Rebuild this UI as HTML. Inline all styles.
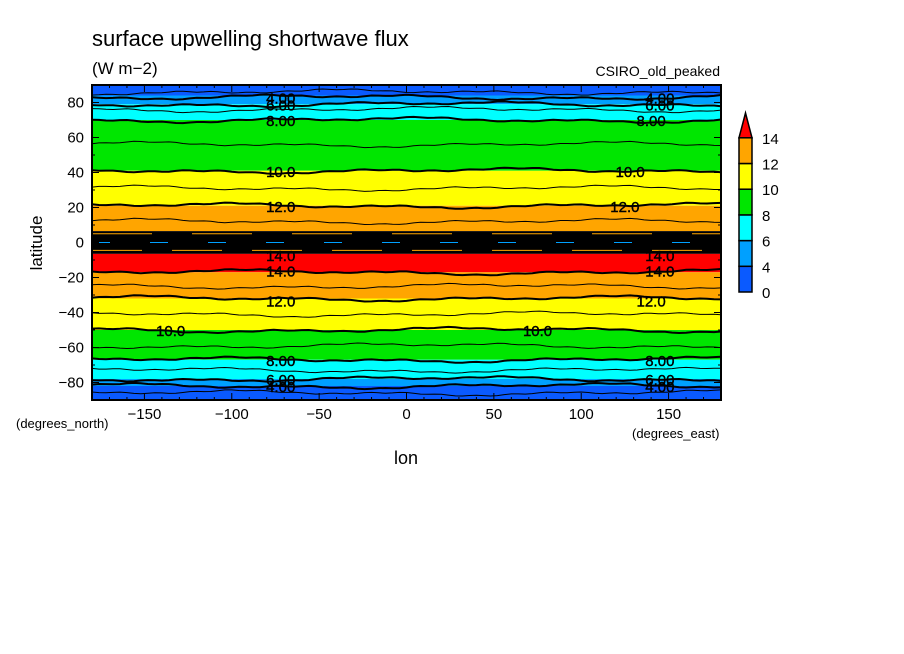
<!DOCTYPE html>
<html><head><meta charset="utf-8"><style>
body{margin:0;background:#fff;width:904px;height:654px;overflow:hidden}
svg{display:block;font-family:"Liberation Sans",sans-serif}
</style></head><body>
<svg id="chart" width="904" height="654" viewBox="0 0 904 654">
<rect width="904" height="654" fill="#fff"/>
<text x="92" y="46" font-size="22">surface upwelling shortwave flux</text>
<text x="92" y="74" font-size="17">(W m−2)</text>
<text x="720" y="76" font-size="14" text-anchor="end">CSIRO_old_peaked</text>
<g id="plot"></g>
<g id="axes"></g>
<g id="cbar"></g>
<text x="42" y="243" font-size="17" text-anchor="middle" transform="rotate(-90 42 243)">latitude</text>
<text x="406" y="464" font-size="18" text-anchor="middle">lon</text>
<text x="16" y="428" font-size="13">(degrees_north)</text>
<text x="632" y="438" font-size="13">(degrees_east)</text>
</svg>
<script>
// band boundaries (latitude, north to south) and fill colours between them
const bandEdges = [90, 84, 79, 70, 41, 21, 6.5, -6.5, -17, -32, -50, -67, -78, -82, -90];
const bandColors = ["#0a5aff", "#00a0ff", "#00ffff", "#00e600", "#ffff00", "#ffa500", "#000000", "#ff0000", "#ffa500", "#ffff00", "#00e600", "#00ffff", "#00a0ff", "#0a5aff"];
const thickContours = [83, 79, 70, 41, 21, -17, -32, -50, -67, -78, -82];
const thinContours = [86, 76, 56, 31, 12, -25, -41, -59, -73, -86];
const contourLabels = [["4.00",-72,83],["6.00",-72,79],["8.00",-72,70],["10.0",-72,41],["12.0",-72,21],["14.0",-72,-7],["14.0",-72,-16],["12.0",-72,-33],["10.0",-135,-50],["8.00",-72,-67],["6.00",-72,-78],["4.00",-72,-82],
["4.00",145,83],["6.00",145,79],["8.00",140,70],["10.0",128,41],["12.0",125,21],["14.0",145,-7],["14.0",145,-16],["12.0",140,-33],["10.0",75,-50],["8.00",145,-67],["6.00",145,-78],["4.00",145,-82]];
const xTicks = [-150,-100,-50,0,50,100,150];
const yTicks = [80,60,40,20,0,-20,-40,-60,-80];
const cbarLevels = [0,4,6,8,10,12,14];
const cbarColors = ["#0a5aff","#00a0ff","#00ffff","#00e600","#ffff00","#ffa500"];

const X0=92,X1=721,Y0=85,Y1=400;
const xs=l=>X0+(l+180)/360*(X1-X0);
const ys=l=>Y0+(90-l)/180*(Y1-Y0);
const NS="http://www.w3.org/2000/svg";
function mk(t,a,p){const e=document.createElementNS(NS,t);for(const k in a)e.setAttribute(k,a[k]);p.appendChild(e);return e;}
const plot=document.getElementById('plot'),axes=document.getElementById('axes'),cbar=document.getElementById('cbar');
for(let i=0;i<bandColors.length;i++){
  const r=mk('rect',{x:X0,y:ys(bandEdges[i]),width:X1-X0,height:ys(bandEdges[i+1])-ys(bandEdges[i]),fill:bandColors[i]},plot);
  
  
}
// equatorial streaks
[[5,"#ffa500","60 40"],[0,"#00a0ff","18 40"],[-4.5,"#ffa500","50 30"]].forEach(([l,c,da])=>{
  const s=mk('line',{x1:X0,x2:X1,y1:ys(l),y2:ys(l),stroke:c,'stroke-width':1,'stroke-dasharray':da},plot);
  
  
});
function wav(l){let d='';for(let lo=-180;lo<=180;lo+=4){const o=Math.sin(lo*0.07+l)*0.7+Math.sin(lo*0.023+l*2)*0.9+Math.sin(lo*0.31+l)*0.3;d+=(lo==-180?'M':'L')+xs(lo).toFixed(1)+','+ys(l+o).toFixed(1);}return d;}
thickContours.forEach(l=>{const p=mk('path',{d:wav(l),fill:'none',stroke:'#000','stroke-width':2},plot);
  });
thinContours.forEach(l=>{const p=mk('path',{d:wav(l),fill:'none',stroke:'#000','stroke-width':1},plot);
  });
contourLabels.forEach(([t,lo,la])=>{const e=mk('text',{x:xs(lo),y:ys(la)+6,'font-size':15,'text-anchor':'middle',fill:'#000','stroke':'#000','stroke-width':0.4},plot);e.textContent=t;
  });
const fr=mk('rect',{x:X0,y:Y0,width:X1-X0,height:Y1-Y0,fill:'none',stroke:'#000','stroke-width':2},axes);

for(let l=-170;l<=170;l+=10){const big=l%50==0;mk('line',{x1:xs(l),x2:xs(l),y1:Y1,y2:Y1-(big?7:3),stroke:'#000'},axes);mk('line',{x1:xs(l),x2:xs(l),y1:Y0,y2:Y0+(big?7:3),stroke:'#000'},axes);}
for(let l=-80;l<=80;l+=10){const big=l%20==0;mk('line',{x1:X0,x2:X0+(big?7:3),y1:ys(l),y2:ys(l),stroke:'#000'},axes);mk('line',{x1:X1,x2:X1-(big?7:3),y1:ys(l),y2:ys(l),stroke:'#000'},axes);}
xTicks.forEach(v=>{const t=mk('text',{x:xs(v),y:419,'font-size':15,'text-anchor':'middle'},axes);t.textContent=v<0?'−'+(-v):v;
  });
yTicks.forEach(v=>{const t=mk('text',{x:84,y:ys(v)+5,'font-size':15,'text-anchor':'end'},axes);t.textContent=v<0?'−'+(-v):v;
  });
// colorbar
const cy=l=>{const i=cbarLevels.indexOf(l);return 292-i*25.7;};
for(let i=0;i<cbarColors.length;i++){const r=mk('rect',{x:739,y:cy(cbarLevels[i+1]),width:13,height:25.7,fill:cbarColors[i],stroke:'#000','stroke-width':1.5},cbar);
  }
const tri=mk('polygon',{points:`739,${cy(14)} 752,${cy(14)} 745.5,113`,fill:'#ff0000',stroke:'#000','stroke-width':1.5},cbar);

cbarLevels.forEach(v=>{const t=mk('text',{x:762,y:cy(v)+6,'font-size':15},cbar);t.textContent=v;
  });
</script>
</body></html>
